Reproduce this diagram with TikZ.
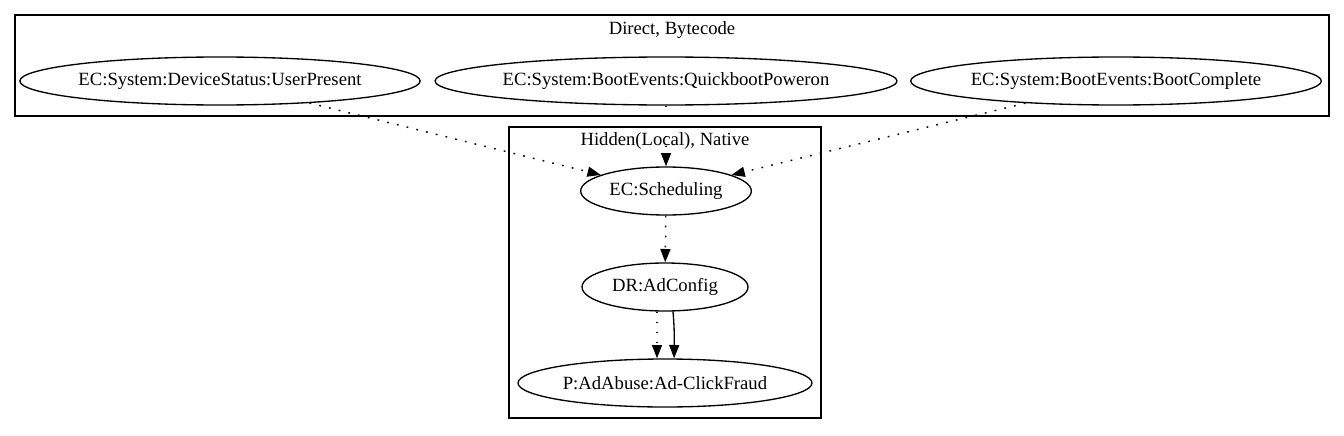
\documentclass[tikz,border=0pt]{standalone}
\usepackage{fontspec}
\setmainfont{Liberation Serif}
\usetikzlibrary{shapes.geometric,arrows.meta}
\begin{document}
\begin{tikzpicture}[x=0.75pt,y=-0.75pt,
  every node/.style={font=\fontsize{14pt}{16pt}\selectfont},
  ev/.style={draw,ellipse,line width=1pt,inner sep=0pt,minimum height=36pt},
  cluster/.style={draw,line width=1pt},
  dotedge/.style={line width=1.1pt,dash pattern=on 1.3pt off 6.2pt,-{Triangle[length=10pt,width=7.5pt]}},
  soledge/.style={line width=1pt,-{Triangle[length=10pt,width=7.5pt]}}]
\useasboundingbox (0,0) rectangle (1344,435);
% clusters
\draw[cluster] (15,15) rectangle (1329,116);
\node (lab1) at (672,30) {Direct, Bytecode};
\draw[cluster] (509,127) rectangle (821,418);
\node (lab2) at (665,141) {Hidden(Local), Native};
% nodes
\node[ev,minimum width=295.5pt] (up) at (220,81) {EC:System:DeviceStatus:UserPresent};
\node[ev,minimum width=339pt] (qp) at (666,81) {EC:System:BootEvents:QuickbootPoweron};
\node[ev,minimum width=302pt] (bc) at (1116,81) {EC:System:BootEvents:BootComplete};
\node[ev,minimum width=128pt] (sch) at (666,191) {EC:Scheduling};
\node[ev,minimum width=124.5pt] (dr) at (665,287) {DR:AdConfig};
\node[ev,minimum width=220.5pt] (p) at (665,383) {P:AdAbuse:Ad-ClickFraud};
% edges
\draw[dotedge] (up) -- (sch);
\draw[dotedge] (qp) -- (sch);
\draw[dotedge] (bc) -- (sch);
\draw[dotedge] (sch) -- (dr);
\draw[dotedge] ([xshift=-6pt]dr.south) -- ([xshift=-6pt]p.north);
\draw[soledge] ([xshift=6pt]dr.south) .. controls ([xshift=7pt,yshift=-12pt]dr.south) and ([xshift=7pt,yshift=18pt]p.north) .. ([xshift=6.8pt]p.north);
\end{tikzpicture}
\end{document}
